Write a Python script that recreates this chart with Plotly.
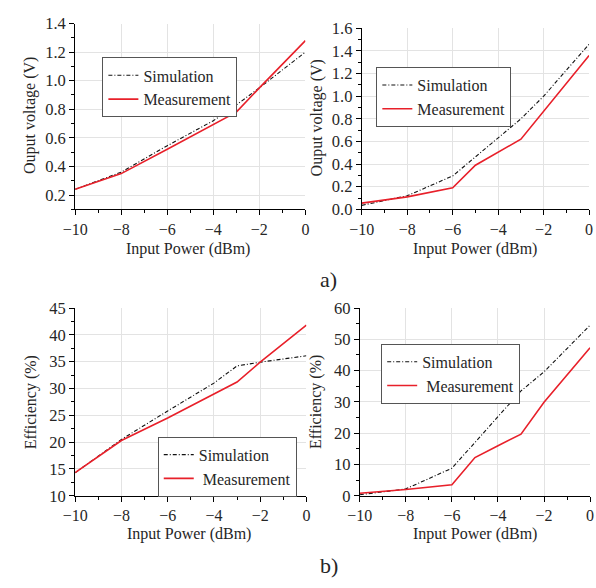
import plotly.graph_objects as go

# ---- data ----
x_a1 = [-10, -8, -6, -4, -3, -2, 0]
sim_a1 = [0.24, 0.36, 0.545, 0.72, 0.83, 0.95, 1.20]
meas_a1 = [0.24, 0.35, 0.52, 0.69, 0.78, 0.95, 1.28]

x_a2_sim = [-10, -8, -6, -4, -3, -2, 0]
sim_a2 = [0.035, 0.12, 0.295, 0.63, 0.80, 1.0, 1.46]
x_a2_meas = [-10, -8, -6, -5, -3, -2, 0]
meas_a2 = [0.055, 0.11, 0.19, 0.39, 0.62, 0.87, 1.36]

x_b1 = [-10, -8, -6, -4, -3, -2, 0]
sim_b1 = [14.3, 20.5, 25.8, 31.0, 34.2, 34.9, 36.1]
meas_b1 = [14.3, 20.3, 24.5, 28.9, 31.2, 34.9, 41.8]

x_b2_sim = [-10, -8, -6, -4, -3, -2, 0]
sim_b2 = [0.3, 2.2, 8.8, 25.2, 33.5, 39.6, 54.5]
x_b2_meas = [-10, -8, -6, -5, -4, -3, -2, 0]
meas_b2 = [0.8, 2.0, 3.5, 12.2, 16.0, 19.7, 29.9, 47.3]

x_ticks = [-10, -8, -6, -4, -2, 0]
x_title = "Input Power (dBm)"
y_title_a = "Ouput voltage (V)"
y_title_b = "Efficiency (%)"

W, H = 596, 588
FONT = "Liberation Serif, Times New Roman, serif"
TXT = "#262626"

def px(x):
    return x / W

def py(y):
    return 1 - y / H

fig = go.Figure()

panels = [
    ("x", "y", "legend", x_a1, sim_a1, x_a1, meas_a1),
    ("x2", "y2", "legend2", x_a2_sim, sim_a2, x_a2_meas, meas_a2),
    ("x3", "y3", "legend3", x_b1, sim_b1, x_b1, meas_b1),
    ("x4", "y4", "legend4", x_b2_sim, sim_b2, x_b2_meas, meas_b2),
]

for xa, ya, lg, xs, ys, xm, ym in panels:
    fig.add_trace(go.Scatter(x=xs, y=ys, mode="lines", name="Simulation",
                             line=dict(color="#111111", width=1.1, dash="4px,2px,1px,2px"),
                             xaxis=xa, yaxis=ya, legend=lg))
    meas_name = "Measurement" if lg in ("legend", "legend2") else " Measurement"
    fig.add_trace(go.Scatter(x=xm, y=ym, mode="lines", name=meas_name,
                             line=dict(color="#e8202a", width=1.6),
                             xaxis=xa, yaxis=ya, legend=lg))

def xax(domain):
    return dict(domain=domain, range=[-10, 0], tickvals=x_ticks,
                showline=True, linecolor="black", linewidth=1,
                ticks="outside", ticklen=5, tickcolor="black",
                minor=dict(ticks="outside", ticklen=3, tickcolor="black", dtick=1, showgrid=False),
                showgrid=True, gridcolor="#e3e3e3", gridwidth=1,
                zeroline=False, tickfont=dict(family=FONT, size=16, color=TXT),
                fixedrange=True)

def yax(domain, rng, dtick, fmt, anchor):
    return dict(domain=domain, range=rng, dtick=dtick, tick0=rng[0] if rng[0] != 0.1 else 0.2,
                tickformat=fmt, anchor=anchor,
                showline=True, linecolor="black", linewidth=1,
                ticks="outside", ticklen=5, tickcolor="black",
                minor=dict(ticks="outside", ticklen=3, tickcolor="black", dtick=dtick / 2, showgrid=False),
                showgrid=True, gridcolor="#e3e3e3", gridwidth=1,
                zeroline=False, tickfont=dict(family=FONT, size=16.5, color=TXT),
                fixedrange=True)

fig.update_layout(
    xaxis=dict(xax([px(64), px(301)]), anchor="y"),
    yaxis=yax([py(207), py(15)], [0.1, 1.4], 0.2, ".1f", "x"),
    xaxis2=dict(xax([px(359), px(593)]), anchor="y2"),
    yaxis2=yax([py(207), py(20)], [0, 1.6], 0.2, ".1f", "x2"),
    xaxis3=dict(xax([px(64), px(302)]), anchor="y3"),
    yaxis3=yax([py(503), py(309)], [10, 45], 5, "d", "x3"),
    xaxis4=dict(xax([px(357), px(594)]), anchor="y4"),
    yaxis4=yax([py(503), py(309)], [0, 60], 10, "d", "x4"),
)

def leg(x, y):
    return dict(x=px(x), y=py(y), xanchor="left", yanchor="top",
                bgcolor="white", bordercolor="#555", borderwidth=1,
                font=dict(family=FONT, size=16, color=TXT),
                tracegroupgap=0, itemwidth=30)

fig.update_layout(
    legend=leg(92, 50),
    legend2=leg(374, 60),
    legend3=leg(149, 442),
    legend4=leg(379, 346),
)

ann = []
for (xc, yc) in [(180, 248), (476, 248), (181, 543), (476, 543)]:
    ann.append(dict(x=px(xc), y=py(yc), xref="paper", yref="paper", text=x_title,
                    showarrow=False, font=dict(family=FONT, size=16, color=TXT),
                    xanchor="center", yanchor="middle"))
for (xc, yc, t) in [(18, 110, y_title_a), (313, 113, y_title_a), (18, 406, y_title_b), (312, 406, y_title_b)]:
    ann.append(dict(x=px(xc), y=py(yc), xref="paper", yref="paper", text=t, textangle=-90,
                    showarrow=False, font=dict(family=FONT, size=16, color=TXT),
                    xanchor="center", yanchor="middle"))
ann.append(dict(x=px(325), y=py(280), xref="paper", yref="paper", text="a)", showarrow=False,
                font=dict(family=FONT, size=22, color=TXT), xanchor="center", yanchor="middle"))
ann.append(dict(x=px(325), y=py(575), xref="paper", yref="paper", text="b)", showarrow=False,
                font=dict(family=FONT, size=22, color=TXT), xanchor="center", yanchor="middle"))

fig.update_layout(
    width=W, height=H, margin=dict(l=0, r=0, t=0, b=0),
    paper_bgcolor="white", plot_bgcolor="white",
    annotations=ann, showlegend=True,
)

fig.write_html("out.html", config={"displayModeBar": False})
